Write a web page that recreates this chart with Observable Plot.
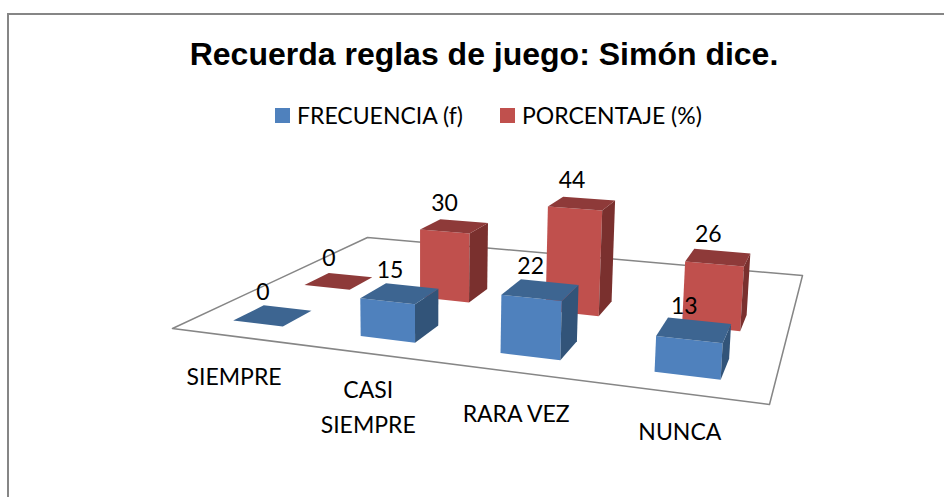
<!DOCTYPE html>
<html>
<head>
<meta charset="utf-8">
<script src="https://cdn.jsdelivr.net/npm/d3@7"></script>
<script src="https://cdn.jsdelivr.net/npm/@observablehq/plot@0.6"></script>
<style>
html,body{margin:0;padding:0;background:#fff;overflow:hidden;width:944px;height:497px}
#frame{position:absolute;left:7px;top:13px;width:960px;height:520px;border:2px solid #868686;box-sizing:border-box}
#title{position:absolute;left:0;width:968px;top:36px;text-align:center;font:bold 32px "Liberation Sans",Arial,sans-serif;color:#000;line-height:36px}
.leg{position:absolute;top:99px;font:23px Lato,sans-serif;color:#000;line-height:32px;white-space:nowrap}
.sw{position:absolute;top:108px;width:15px;height:15px}
#chart{position:absolute;left:0;top:0}
</style>
</head>
<body>
<div id="frame"></div>
<div id="title">Recuerda reglas de juego: Simón dice.</div>
<div class="sw" style="left:275px;background:#4f81bd"></div>
<div class="leg" id="l0" style="left:297px"></div>
<div class="sw" style="left:500px;background:#c0504d"></div>
<div class="leg" id="l1" style="left:522px"></div>
<div id="chart"></div>
<script>
// Data
const categories = ["SIEMPRE", "CASI\nSIEMPRE", "RARA VEZ", "NUNCA"];
const seriesNames = ["FRECUENCIA (f)", "PORCENTAJE (%)"];
const frecuencia = [0, 15, 22, 13];
const porcentaje = [0, 30, 44, 26];

// Face colours per series
const palette = [
  {front: "#4f81bd", top: "#3d6591", side: "#325479"},
  {front: "#c0504d", top: "#8e3a39", side: "#7a302e"}
];

document.getElementById("l0").textContent = seriesNames[0];
document.getElementById("l1").textContent = seriesNames[1];

// Perspective camera: floor anchored on its four corners, vertical vanishing point below
const [x0, y0, x1, y1, x2, y2, x3, y3] = [172, 328, 769, 404, 802, 275, 367, 237];
const dx1 = x1 - x2, dx2 = x3 - x2, sx = x0 - x1 + x2 - x3;
const dy1 = y1 - y2, dy2 = y3 - y2, sy = y0 - y1 + y2 - y3;
const den = dx1 * dy2 - dx2 * dy1;
const g = (sx * dy2 - dx2 * sy) / den, h = (dx1 * sy - sx * dy1) / den;
const a = x1 - x0 + g * x1, b = x3 - x0 + h * x3;
const d = y1 - y0 + g * y1, e = y3 - y0 + h * y3;
const Vx = 420, Vy = 5800, k = 0.00045;
function project(u, v, z = 0) {
  const t = -k * z;
  const w = g * u + h * v + 1 + t;
  return [(a * u + b * v + x0 + t * Vx) / w, (d * u + e * v + y0 + t * Vy) / w];
}

const nCat = categories.length, nDepth = 3;       // third depth row is empty
const halfU = 0.4 / nCat / 2, halfV = 0.4 / nDepth / 2;
const catNudge = [-3, 11, -1, -4];                // label placement along the front edge
const barShift = -0.003;                          // slot offset along the category axis

const faces = [];
const labels = [];
function addFace(id, fill, pts) {
  for (const p of pts) {
    const [px, py] = project(...p);
    faces.push({id, fill, px, py});
  }
}
// back series first, then front series, so nearer bars cover farther ones
[porcentaje, frecuencia].forEach((values) => {
  const s = values === frecuencia ? 0 : 1;
  values.forEach((val, i) => {
    const u = (i + 0.5) / nCat + barShift, v = (s + 0.5) / nDepth;
    const u0 = u - halfU, u1 = u + halfU, v0 = v - halfV, v1 = v + halfV;
    const c = palette[s], key = `${s}-${i}`;
    addFace(key + "f", c.front, [[u0,v0,0],[u1,v0,0],[u1,v0,val],[u0,v0,val],[u0,v0,0]]);
    addFace(key + "s", c.side, [[u1,v0,0],[u1,v1,0],[u1,v1,val],[u1,v0,val],[u1,v0,0]]);
    addFace(key + "t", c.top, [[u0,v0,val],[u1,v0,val],[u1,v1,val],[u0,v1,val],[u0,v0,val]]);
    const [lx, ly] = project(u, v, val);
    labels.push({lx, ly, val});
  });
});

const floor = [[0,0],[1,0],[1,1],[0,1],[0,0]].map(([u, v]) => {
  const [px, py] = project(u, v);
  return {px, py};
});
const catLabels = categories.map((name, i) => {
  const [lx, ly] = project((i + 0.5) / nCat, 0);
  return {name, lx, ly: ly + catNudge[i]};
});

const chart = Plot.plot({
  width: 944, height: 497,
  margin: 0,
  x: {domain: [0, 944], range: [0, 944], axis: null},
  y: {domain: [0, 497], range: [0, 497], axis: null},
  marks: [
    Plot.line(floor, {x: "px", y: "py", stroke: "#868686", strokeWidth: 1.5, curve: "linear"}),
    Plot.line(faces, {x: "px", y: "py", z: "id", fill: "fill", stroke: "none", curve: "linear"}),
    Plot.text(labels, {x: "lx", y: "ly", text: d => String(d.val), dx: -10, dy: -23, fontSize: 23, fontFamily: "Lato, sans-serif", fill: "#000"}),
    Plot.text(catLabels, {x: "lx", y: "ly", text: "name", dx: -1, dy: 40, fontSize: 23, lineHeight: 1.5, fontFamily: "Lato, sans-serif", fill: "#000"})
  ]
});
chart.style.background = "transparent";
document.getElementById("chart").appendChild(chart);
</script>
</body>
</html>
